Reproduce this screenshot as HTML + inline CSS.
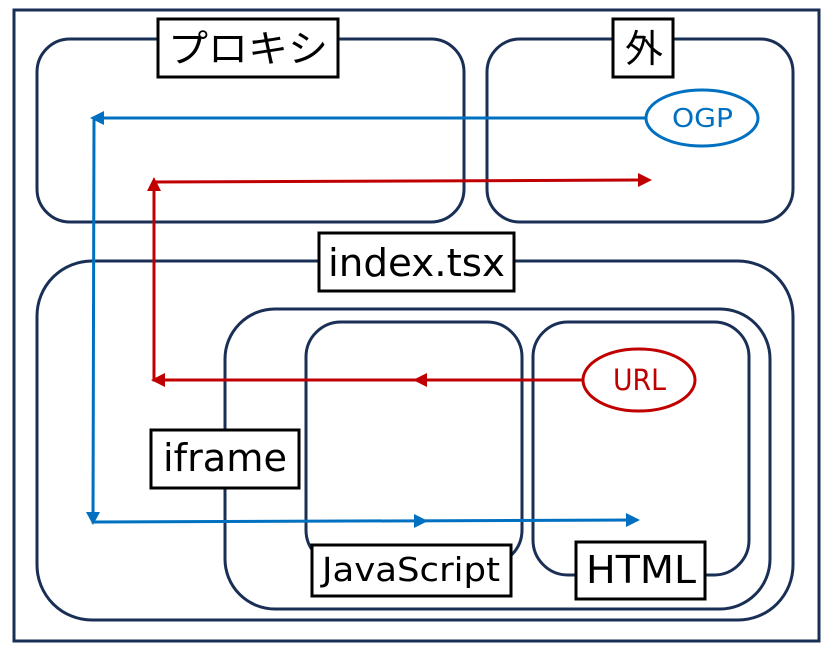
<!DOCTYPE html>
<html><head><meta charset="utf-8"><style>html,body{margin:0;padding:0;background:#fff}svg{display:block}</style></head>
<body>
<svg width="833" height="650" viewBox="0 0 833 650" xmlns="http://www.w3.org/2000/svg">
<g fill="none" stroke="#1a2f55" stroke-width="3">
<rect x="14" y="10" width="805" height="631"/>
<rect x="37" y="39" width="427" height="183" rx="33"/>
<rect x="487" y="39" width="306" height="183" rx="33"/>
<rect x="37" y="261" width="756" height="359" rx="55"/>
<rect x="225" y="309" width="545" height="300" rx="50"/>
<rect x="306" y="322" width="216" height="243" rx="35"/>
<rect x="533" y="322" width="216" height="253" rx="35"/>
</g>
<g fill="#fff" stroke="#000" stroke-width="3">
<rect x="158" y="19" width="180" height="58"/>
<rect x="613" y="19" width="60" height="58"/>
<rect x="319" y="233" width="195" height="58"/>
<rect x="151" y="430" width="148" height="58"/>
<rect x="312" y="545" width="199" height="51"/>
<rect x="576" y="542" width="129" height="57"/>
</g>
<g font-family="DejaVu Sans, Noto Sans CJK JP, sans-serif" fill="#000">
<text x="168" y="62" font-size="38" textLength="160" lengthAdjust="spacingAndGlyphs" font-family="Noto Sans CJK JP, sans-serif">プロキシ</text>
<text x="625" y="62" font-size="38" font-family="Noto Sans CJK JP, sans-serif">外</text>
<text x="328" y="276" font-size="38" textLength="177" lengthAdjust="spacingAndGlyphs">index.tsx</text>
<text x="163" y="471" font-size="38" textLength="124" lengthAdjust="spacingAndGlyphs">iframe</text>
<text x="322" y="581" font-size="33" textLength="178" lengthAdjust="spacingAndGlyphs">JavaScript</text>
<text x="586" y="583" font-size="38" textLength="110" lengthAdjust="spacingAndGlyphs">HTML</text>
</g>
<ellipse cx="702" cy="118" rx="56" ry="28" fill="#fff" stroke="#0070c0" stroke-width="3"/>
<text x="672" y="127" font-size="26" textLength="61" lengthAdjust="spacingAndGlyphs" fill="#0070c0" font-family="DejaVu Sans, sans-serif">OGP</text>
<ellipse cx="639" cy="380" rx="56" ry="31" fill="#fff" stroke="#c00000" stroke-width="3"/>
<text x="613" y="390" font-size="29" textLength="53" lengthAdjust="spacingAndGlyphs" fill="#c00000" font-family="DejaVu Sans, sans-serif">URL</text>
<g stroke="#0070c0" stroke-width="3" fill="none">
<polyline points="646,118 94,118 93,522 636,520"/>
</g>
<g fill="#0070c0">
<polygon points="90,118 104,111 104,125"/>
<polygon points="93,525 86,512 100,512"/>
<polygon points="428,521 414,514 414,528"/>
<polygon points="640,520 626,513 626,527"/>
</g>
<g stroke="#c00000" stroke-width="3" fill="none">
<polyline points="583,380 154,380 154,182 648,180"/>
</g>
<g fill="#c00000">
<polygon points="151,380 165,373 165,387"/>
<polygon points="413,380 427,373 427,387"/>
<polygon points="154,177 147,191 161,191"/>
<polygon points="652,180 638,173 638,187"/>
</g>
</svg>
</body></html>
